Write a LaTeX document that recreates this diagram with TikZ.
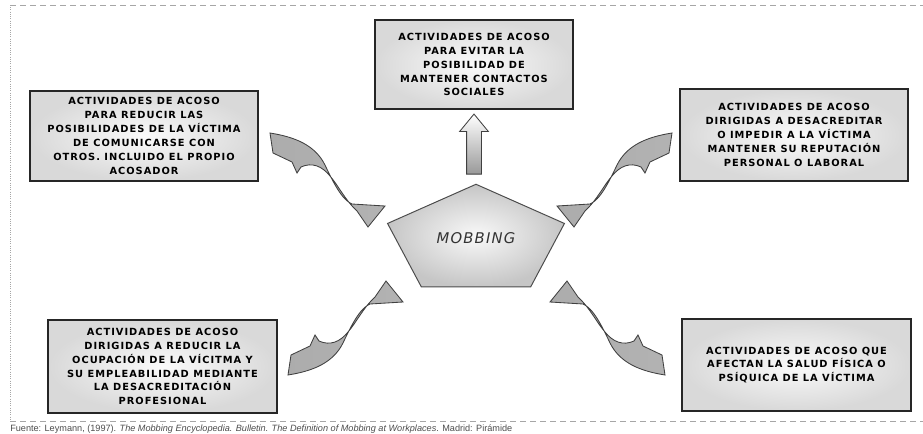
\documentclass[tikz,border=0pt]{standalone}
\usepackage{fontspec}
\setmainfont{Liberation Sans}
\newfontfamily\boxfont[LetterSpace=10]{DejaVu Sans}
\newfontfamily\mobfont[LetterSpace=8]{DejaVu Sans}
\usetikzlibrary{positioning,shapes,calc}

\tikzset{
  caja/.style={draw=black!85, line width=0.8pt, inner color=gray!4, outer color=gray!30,
    align=center, inner sep=0pt, text=black,
    font=\boxfont\bfseries\fontsize{7}{9.9}\selectfont},
  penta/.style={draw=black!70, line width=0.7pt, inner color=gray!5, outer color=gray!45},
  cinta/.style={draw=black!75, line width=0.6pt, left color=gray!65, middle color=gray!12, right color=gray!60},
  flecha/.style={single arrow, draw=black!75, line width=0.6pt, top color=white, bottom color=gray!80,
    minimum height=1.5cm, inner xsep=0.175cm, inner ysep=0pt, single arrow head extend=0.175cm,
    single arrow tip angle=79, shape border rotate=90},
  marco/.style={gray!70, line width=0.6pt},
  twist/.pic={
    \path[cinta] (-98,-94) .. controls (-73,-90) and (-53,-82) .. (-43,-62)
      .. controls (-35,-45) and (-26,-27) .. (-16,-23) -- (17,-21) -- (0,0) -- (-11,-16)
      .. controls (-23,-27) and (-30,-42) .. (-38,-51)
      .. controls (-46,-61) and (-56,-65) .. (-67,-60) -- (-71,-54) -- (-76,-65) -- (-95,-74) -- cycle;
  }
}

\begin{document}
\begin{tikzpicture}[x=0.025cm, y=-0.025cm]
\useasboundingbox (0,0) rectangle (923,434);

% frame
\draw[marco, dash pattern=on 0.15cm off 0.1cm] (10,5) -- (930,5);
\draw[marco, dash pattern=on 0.15cm off 0.1cm] (10,421) -- (930,421);
\draw[marco, densely dotted] (10,5) -- (10,421);

% boxes
\node[caja, minimum width=4.95cm, minimum height=2.225cm] (social) at (474,64.5)
  {ACTIVIDADES DE ACOSO\\PARA EVITAR LA\\POSIBILIDAD DE\\MANTENER CONTACTOS\\SOCIALES};
\node[caja, minimum width=5.7cm, minimum height=2.25cm] (comunic) at (144,136)
  {ACTIVIDADES DE ACOSO\\PARA REDUCIR LAS\\POSIBILIDADES DE LA VÍCTIMA\\DE COMUNICARSE CON\\OTROS. INCLUIDO EL PROPIO\\ACOSADOR};
\node[caja, minimum width=5.7cm, minimum height=2.3cm] (reputa) at (794,135)
  {ACTIVIDADES DE ACOSO\\DIRIGIDAS A DESACREDITAR\\O IMPEDIR A LA VÍCTIMA\\MANTENER SU REPUTACIÓN\\PERSONAL O LABORAL};
\node[caja, minimum width=5.725cm, minimum height=2.325cm] (ocupa) at (162.5,366.5)
  {ACTIVIDADES DE ACOSO\\DIRIGIDAS A REDUCIR LA\\OCUPACIÓN DE LA VÍCITMA Y\\SU EMPLEABILIDAD MEDIANTE\\LA DESACREDITACIÓN\\PROFESIONAL};
\node[caja, minimum width=5.725cm, minimum height=2.3cm] (salud) at (796.5,365)
  {ACTIVIDADES DE ACOSO QUE\\AFECTAN LA SALUD FÍSICA O\\PSÍQUICA DE LA VÍCTIMA};

% centre
\coordinate (mob) at (476,238);
\draw[penta, shift={($(mob)+(0,3)$)}, yscale=0.61]
  (-90:93) -- (-162:93) -- (-234:93) -- (-306:93) -- (-18:93) -- cycle;
\node[font=\mobfont\itshape\fontsize{10.5}{12}\selectfont, text=black!80] (mobtxt) at (mob) {MOBBING};

% arrows
\node[flecha] (up) at ($(social.south)+(0,39)$) {};
\foreach \dx/\dy/\sx/\sy in {-108/-11/1/1, 98/-11/-1/1, -90/43/1/-1, 91/43/-1/-1} {
    \pic[xscale=\sx, yscale=\sy] at ($(mob)+(\dx,\dy)$) {twist};
}

\node[anchor=north west, inner sep=0pt, text=black!70, font=\fontsize{6.5}{7.5}\selectfont] (fuente) at (10,424.5)
  {Fuente: Leymann, (1997). \textit{The Mobbing Encyclopedia. Bulletin. The Definition of Mobbing at Workplaces}. Madrid: Pirámide};
\end{tikzpicture}
\end{document}
